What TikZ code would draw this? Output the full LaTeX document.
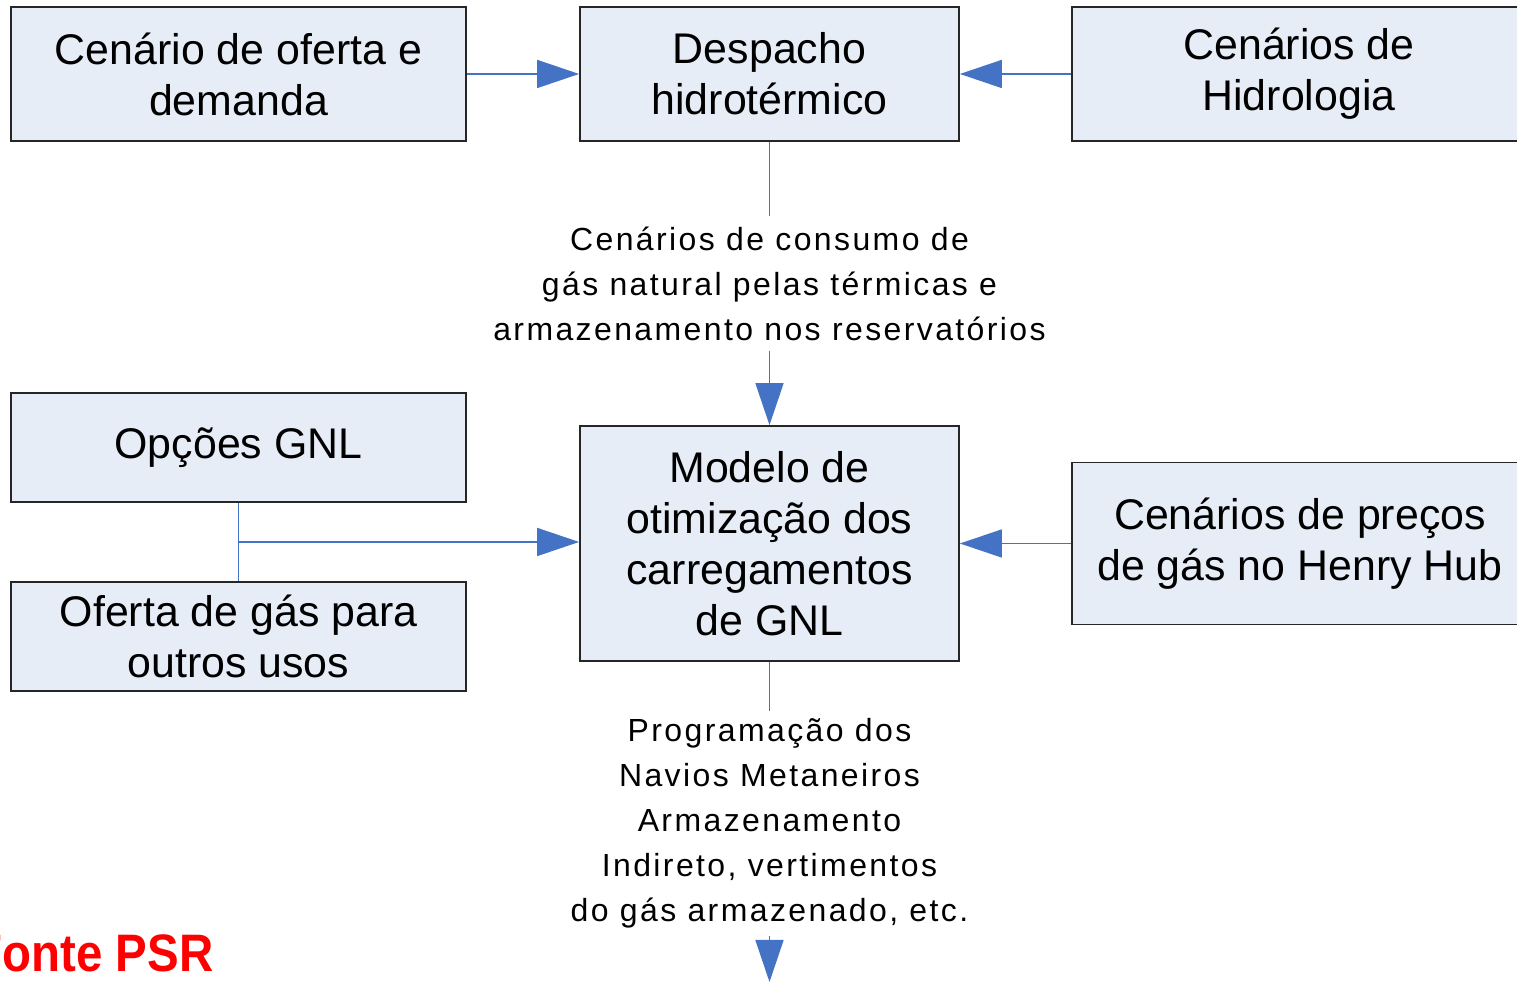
\documentclass[tikz,border=0pt]{standalone}
\usepackage{fontspec}
\setmainfont{Liberation Sans}
\newfontfamily\lblfont[LetterSpace=7.5]{Liberation Sans}
\usetikzlibrary{arrows.meta}
\definecolor{boxfill}{HTML}{E7EDF7}
\definecolor{linkblue}{HTML}{4472C4}
\definecolor{psrred}{HTML}{FF0000}

\begin{document}
\begin{tikzpicture}[
  bloco/.style={draw=black!85, fill=boxfill, line width=0.5pt, align=center,
    inner sep=0pt, font=\fontsize{12.2}{14.5}\selectfont},
  rotulo/.style={align=center, inner sep=0pt, font=\lblfont\fontsize{9.1}{12.8}\selectfont},
  liga/.style={draw=linkblue, line width=0.45pt},
  seta/.style={liga, -{Triangle[length=4.2mm,width=2.8mm]}, fill=linkblue}
]
\clip (0,0) rectangle (15.17,9.82);
% caixas de entrada
\node[bloco, minimum width=4.55cm, minimum height=1.34cm] (oferta) at (2.385,9.08) {Cen\'ario de oferta e\\demanda};
\node[bloco, minimum width=3.79cm, minimum height=1.34cm] (despacho) at (7.695,9.08) {Despacho\\hidrot\'ermico};
\node[bloco, minimum width=4.54cm, minimum height=1.34cm] (hidro) at (12.99,9.08) {Cen\'arios de\\Hidrologia};
\node[bloco, minimum width=4.55cm, minimum height=1.09cm] (gnl) at (2.385,5.345) {Op\c{c}\~oes GNL};
\node[bloco, minimum width=4.55cm, minimum height=1.09cm] (outros) at (2.385,3.455) {Oferta de g\'as para\\outros usos};
\node[bloco, minimum width=3.79cm, minimum height=2.35cm] (modelo) at (7.695,4.385) {Modelo de\\otimiza\c{c}\~ao dos\\carregamentos\\de GNL};
\node[bloco, minimum width=4.56cm, minimum height=1.62cm] (precos) at (13.0,4.385) {Cen\'arios de pre\c{c}os\\de g\'as no Henry Hub};
% textos das ligacoes
\node[rotulo, minimum height=1.33cm] (consumo) at (7.695,6.985) {Cen\'arios de consumo de\\g\'as natural pelas t\'ermicas e\\armazenamento nos reservat\'orios};
\node[rotulo, minimum height=2.23cm] (saida) at (7.695,1.585) {Programa\c{c}\~ao dos\\Navios Metaneiros\\Armazenamento\\Indireto, vertimentos\\do g\'as armazenado, etc.};
\coordinate (fim) at (7.695,0);
\coordinate (juncao) at (2.385,4.40);
% ligacoes
\draw[seta] (oferta) -- (despacho);
\draw[seta] (hidro) -- (despacho);
\draw[liga] (despacho) -- (consumo);
\draw[seta] (consumo) -- (modelo);
\draw[liga] (gnl) -- (outros);
\draw[seta] (juncao) -- (juncao -| modelo.west);
\draw[seta] (precos) -- (modelo);
\draw[liga] (modelo) -- (saida);
\draw[seta] (saida) -- (fim);
\node[anchor=base east, inner sep=0pt, text=psrred, font=\bfseries\fontsize{15}{18}\selectfont] (fonte) at (2.14,0.103) {\scalebox{0.9}[1]{Fonte PSR}};
\end{tikzpicture}
\end{document}
